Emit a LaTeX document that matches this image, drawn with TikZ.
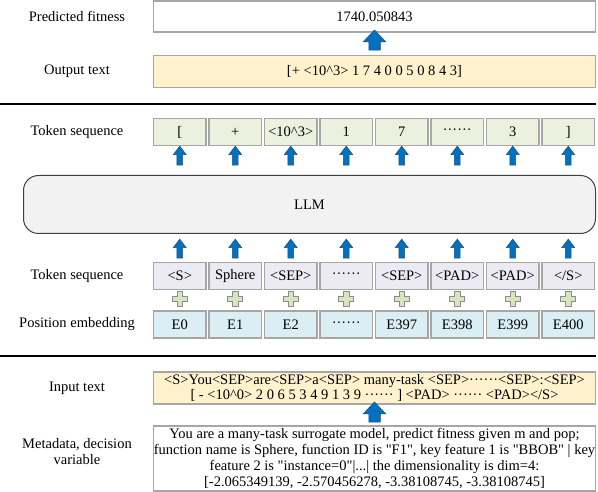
\documentclass[tikz,border=0pt]{standalone}
\usepackage{fontspec}
\setmainfont{Liberation Serif}[Ligatures=TeXOff]
\usepackage{tikz}
\usetikzlibrary{shapes.arrows}
\definecolor{boxgray}{HTML}{A6A6A6}
\definecolor{yellowbox}{HTML}{FFF2CC}
\definecolor{greenbox}{HTML}{EBF1DE}
\definecolor{lavbox}{HTML}{ECEAF2}
\definecolor{bluebox}{HTML}{DAEEF3}
\definecolor{llmfill}{HTML}{F2F2F2}
\definecolor{llmline}{HTML}{404040}
\definecolor{arrblue}{HTML}{0070C0}
\definecolor{arrline}{HTML}{1F4E79}
\definecolor{plusfill}{HTML}{D7E4BD}
\definecolor{plusline}{HTML}{8C8C8C}
\newcommand{\sixdots}{\textperiodcentered\textperiodcentered\textperiodcentered\textperiodcentered\textperiodcentered\textperiodcentered}
\newcommand{\pw}{\textasciicircum}
\newcommand{\closetok}{</S>}

\begin{document}
\begin{tikzpicture}[x=1pt, y=-1pt,
  fs/.style={font=\fontsize{14.5}{15.8}\selectfont},
  box/.style={draw=boxgray, line width=1.1pt, minimum width=52.5, minimum height=27, inner sep=0.5pt, fs},
  wide/.style={box, minimum width=442, align=center},
  lab/.style={align=center, fs},
  tip/.style={single arrow, shape border rotate=90, draw=arrline, fill=arrblue, line width=0.5pt,
              inner sep=2.6pt, minimum height=19, minimum width=0, single arrow head extend=3.6,
              single arrow tip angle=75},
  bigtip/.style={tip, inner sep=5.5pt, minimum height=20, single arrow head extend=5.8,
                 single arrow tip angle=88},
  plus/.style={draw=plusline, fill=plusfill, line width=0.6pt},
  rule/.style={line width=1.4pt}]
\useasboundingbox (0,0) rectangle (598,492);
% output part (top)
\node[lab] (fitlab) at (77,16) {Predicted fitness};
\node[wide, minimum height=31] (fit) at (374.5,16.5) {1740.050843};
\node[bigtip] (outarr) at (374.5,43) {};
\node[lab] (outlab) at (77,71.5) {Output text};
\node[wide, fill=yellowbox, minimum height=32] (out) at (374.5,71.5) {[+ <10\pw3> 1 7 4 0 0 5 0 8 4 3]};
\coordinate (rule1a) at (0,104); \coordinate (rule1b) at (596,104);
\draw[rule] (rule1a) -- (rule1b);
% tokens out of the LLM
\node[lab] (toklab) at (77,132) {Token sequence};
\foreach \t [count=\i] in {[,+,<10\pw3>,1,7,\sixdots,3,]} {
  \node[box, fill=greenbox] (tok\i) at ({124.25+55.5*\i},132) {\t};
  \node[tip] (up\i) at ({124.25+55.5*\i},157.5) {};
}
\node[draw=llmline, fill=llmfill, rounded corners=15, line width=1pt, minimum width=572,
      minimum height=58, fs] (llm) at (309.5,204.5) {LLM};
% tokens into the LLM
\node[lab] (inlab) at (77,276) {Token sequence};
\node[lab] (emblab) at (77,324.5) {Position embedding};
\foreach \t/\e [count=\i] in {<S>/E0,Sphere/E1,<SEP>/E2,\sixdots/\sixdots,<SEP>/E397,<PAD>/E398,<PAD>/E399,\closetok/E400} {
  \node[tip] (in\i) at ({124.25+55.5*\i},250.5) {};
  \node[box, fill=lavbox] (tin\i) at ({124.25+55.5*\i},276) {\t};
  \draw[plus] ({124.25+55.5*\i},299) ++(-2.6,-7.5) -- ++(5.2,0) -- ++(0,4.9) -- ++(4.9,0) -- ++(0,5.2)
    -- ++(-4.9,0) -- ++(0,4.9) -- ++(-5.2,0) -- ++(0,-4.9) -- ++(-4.9,0) -- ++(0,-5.2) -- ++(4.9,0) -- cycle;
  \node[box, fill=bluebox] (emb\i) at ({124.25+55.5*\i},324.5) {\e};
}
\coordinate (rule2a) at (0,356); \coordinate (rule2b) at (596,356);
\draw[rule] (rule2a) -- (rule2b);
% input part (bottom)
\node[lab] (inplab) at (77,388) {Input text};
\node[wide, fill=yellowbox, minimum height=32, inner sep=0pt] (inp) at (374.5,388)
  {<S>You<SEP>are<SEP>a<SEP> many-task <SEP>\sixdots<SEP>:<SEP>\\
   {[} - <10\pw0> 2 0 6 5 3 4 9 1 3 9 \sixdots\ ] <PAD> \sixdots\ <PAD></S>};
\node[bigtip] (inarr) at (374.5,415) {};
\node[lab] (metalab) at (77,451.5) {Metadata, decision\\variable};
\node[wide, minimum height=65, inner sep=0pt] (meta) at (374.5,458.5)
  {You are a many-task surrogate model, predict fitness given m and pop;\\
   function name is Sphere, function ID is "F1", key feature 1 is "BBOB" | key\\
   feature 2 is "instance=0"|...| the dimensionality is dim=4:\\
   {[}-2.065349139, -2.570456278, -3.38108745, -3.38108745]};
\end{tikzpicture}
\end{document}
